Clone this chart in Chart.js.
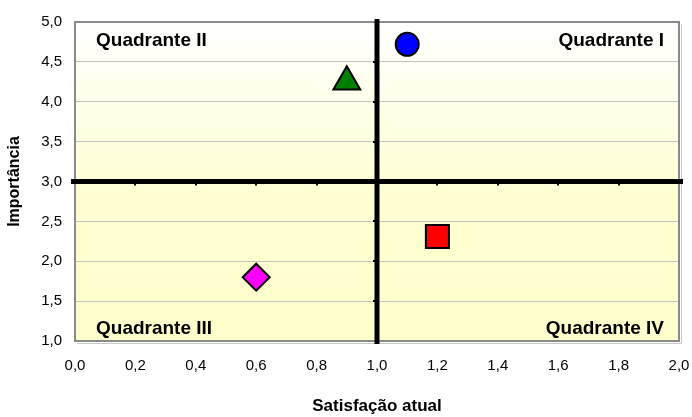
<!DOCTYPE html>
<html>
<head>
<meta charset="utf-8">
<title>Quadrantes</title>
<script src="https://cdn.jsdelivr.net/npm/chart.js@4/dist/chart.umd.min.js"></script>
<style>
    html, body { margin: 0; padding: 0; background: #ffffff; }
    #wrap { width: 692px; height: 417px; }
</style>
</head>
<body>
<div id="wrap"><canvas id="quad-chart" width="692" height="417"></canvas></div>
<script>
(function () {
    'use strict';

    // Data
    var seriesNames = ['Item A', 'Item B', 'Item C', 'Item D'];
    var satisfacao = [1.1, 0.9, 0.6, 1.2];
    var importancia = [4.72, 4.25, 1.8, 2.31];

    var xRange = [0, 2];
    var yRange = [1, 5];
    var xStep = 0.2;
    var yStep = 0.5;

    // Where the two thick dividing lines cross
    var crossX = 1.0;
    var crossY = 3.0;

    var quadrantLabels = ['Quadrante I', 'Quadrante II', 'Quadrante III', 'Quadrante IV'];
    var xTitle = 'Satisfação atual';
    var yTitle = 'Importância';

    // Marker styles, one per series
    var markerStyle = ['circle', 'triangle', 'rectRot', 'rect'];
    var markerColor = ['#0000ff', '#008000', '#ff00ff', '#ff0000'];
    var markerRadius = [11.5, 15.5, 13.5, 16.3];

    var FONT = '"Liberation Sans", Arial, sans-serif';

    function fmt(v) {
        return Number(v).toFixed(1).replace('.', ',');
    }

    var datasets = seriesNames.map(function (name, i) {
        return {
            label: name,
            data: [{ x: satisfacao[i], y: importancia[i] }],
            pointStyle: markerStyle[i],
            backgroundColor: markerColor[i],
            borderColor: '#000000',
            borderWidth: 2,
            pointRadius: markerRadius[i],
            pointHoverRadius: markerRadius[i]
        };
    });

    /**
     * Plot background: white at the top fading to pale yellow.
     */
    var backgroundPlugin = {
        id: 'plotBackground',
        beforeDraw: function (chart) {
            var a = chart.chartArea;
            var ctx = chart.ctx;
            var g = ctx.createLinearGradient(0, a.top, 0, a.bottom);
            g.addColorStop(0, '#ffffff');
            g.addColorStop(0.55, '#ffffd2');
            g.addColorStop(1, '#ffffcc');
            ctx.save();
            ctx.fillStyle = g;
            ctx.fillRect(a.left, a.top, a.right - a.left, a.bottom - a.top);
            ctx.restore();
        }
    };

    /**
     * Plot border, dividing lines and quadrant captions.
     */
    var quadrantPlugin = {
        id: 'quadrants',
        beforeDatasetsDraw: function (chart) {
            var a = chart.chartArea;
            var ctx = chart.ctx;
            var xs = chart.scales.x;
            var ys = chart.scales.y;
            var px = xs.getPixelForValue(crossX);
            var py = ys.getPixelForValue(crossY);
            var v;

            ctx.save();

            // border with a light shadow
            ctx.strokeStyle = '#c8c8c8';
            ctx.lineWidth = 1;
            ctx.beginPath();
            ctx.moveTo(a.right + 2.5, a.top + 2);
            ctx.lineTo(a.right + 2.5, a.bottom + 2.5);
            ctx.lineTo(a.left + 2, a.bottom + 2.5);
            ctx.stroke();
            ctx.strokeStyle = '#8a8a8a';
            ctx.lineWidth = 2;
            ctx.strokeRect(a.left, a.top, a.right - a.left, a.bottom - a.top);

            // thick dividing lines
            ctx.strokeStyle = '#000000';
            ctx.lineWidth = 5;
            ctx.beginPath();
            ctx.moveTo(a.left - 4, py);
            ctx.lineTo(a.right + 4, py);
            ctx.moveTo(px, a.top - 3);
            ctx.lineTo(px, a.bottom + 3);
            ctx.stroke();

            // little tick marks on the dividing lines
            ctx.lineWidth = 2;
            ctx.beginPath();
            for (v = xRange[0] + xStep; v < xRange[1] - 1e-9; v += xStep) {
                var tx = Math.round(xs.getPixelForValue(v));
                ctx.moveTo(tx, py);
                ctx.lineTo(tx, py + 4);
            }
            for (v = yRange[0] + yStep; v < yRange[1] - 1e-9; v += yStep) {
                var ty = Math.round(ys.getPixelForValue(v));
                ctx.moveTo(px, ty);
                ctx.lineTo(px - 4, ty);
            }
            ctx.stroke();

            // captions
            ctx.fillStyle = '#000000';
            ctx.font = 'bold 19px ' + FONT;
            ctx.textBaseline = 'middle';
            ctx.textAlign = 'right';
            ctx.fillText(quadrantLabels[0], a.right - 15, a.top + 19);
            ctx.fillText(quadrantLabels[3], a.right - 15, a.bottom - 12);
            ctx.textAlign = 'left';
            ctx.fillText(quadrantLabels[1], a.left + 21, a.top + 19);
            ctx.fillText(quadrantLabels[2], a.left + 21, a.bottom - 12);

            ctx.restore();
        }
    };

    var canvas = document.getElementById('quad-chart');
    var ctx = canvas.getContext('2d');

    new Chart(ctx, {
        type: 'scatter',
        data: { datasets: datasets },
        options: {
            responsive: false,
            animation: false,
            events: [],
            layout: {
                autoPadding: false,
                padding: { top: 22, right: 0, bottom: 0, left: 0 }
            },
            plugins: {
                legend: { display: false },
                tooltip: { enabled: false }
            },
            scales: {
                x: {
                    type: 'linear',
                    min: xRange[0],
                    max: xRange[1],
                    afterFit: function (scale) {
                        scale.height = 76;
                        scale.paddingLeft = 0;
                        scale.paddingRight = 13;
                    },
                    ticks: {
                        stepSize: xStep,
                        padding: 16,
                        color: '#000000',
                        font: { family: FONT, size: 15 },
                        callback: function (v) { return fmt(v); }
                    },
                    grid: { display: false, drawTicks: false },
                    border: { display: false },
                    title: {
                        display: true,
                        text: xTitle,
                        color: '#000000',
                        font: { family: FONT, size: 17, weight: 'bold' },
                        padding: { top: 0, bottom: 0 }
                    }
                },
                y: {
                    type: 'linear',
                    min: yRange[0],
                    max: yRange[1],
                    afterFit: function (scale) { scale.width = 75; },
                    ticks: {
                        stepSize: yStep,
                        padding: 13,
                        color: '#000000',
                        font: { family: FONT, size: 15 },
                        callback: function (v) { return fmt(v); }
                    },
                    grid: { color: '#c0c0c0', lineWidth: 1, drawTicks: false },
                    border: { display: false },
                    title: {
                        display: true,
                        text: yTitle,
                        color: '#000000',
                        font: { family: FONT, size: 16, weight: 'bold' },
                        padding: { top: 5, bottom: 0 }
                    }
                }
            }
        },
        plugins: [backgroundPlugin, quadrantPlugin]
    });
})();
</script>
</body>
</html>
